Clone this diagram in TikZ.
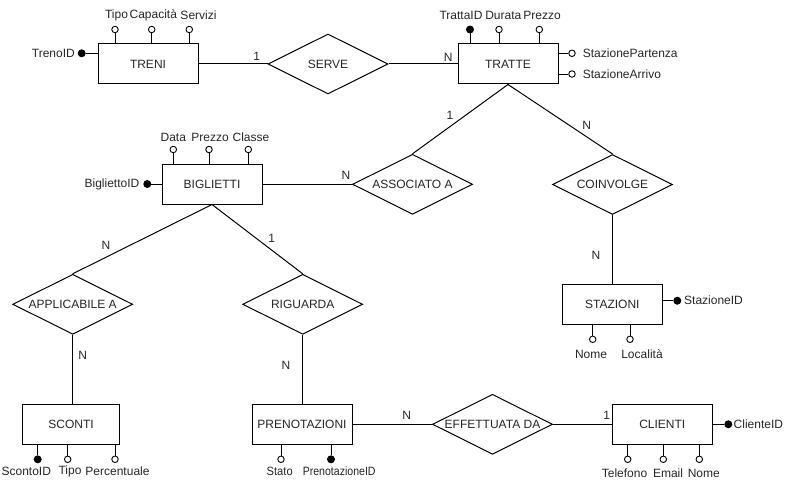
\documentclass[tikz,border=0pt]{standalone}
\usepackage{fontspec}
\usepackage{graphicx}
\setmainfont{Liberation Sans}
\usetikzlibrary{shapes.geometric}
\begin{document}
\begin{tikzpicture}[x=1pt,y=-1pt,
  every node/.style={font=\fontsize{12}{14}\selectfont, text=black!85},
  ent/.style={draw, line width=1pt, minimum width=100, minimum height=40, inner sep=0, fill=white},
  rel/.style={draw, line width=1pt, diamond, minimum width=120, minimum height=60, inner sep=0, fill=white},
  attro/.style={draw, line width=0.9pt, circle, minimum size=6.5, inner sep=0, fill=white},
  attrk/.style={draw, line width=0.9pt, circle, minimum size=7, inner sep=0, fill=black},
  txt/.style={inner sep=0},
  conn/.style={line width=1pt},
  stem/.style={line width=0.9pt}
]
\useasboundingbox (0,0) rectangle (790,487);

% entities
\node[ent] (treni) at (148,64) {TRENI};
\node[ent] (tratte) at (508,64) {TRATTE};
\node[ent] (biglietti) at (212,184) {BIGLIETTI};
\node[ent] (stazioni) at (612.3,304.3) {STAZIONI};
\node[ent, minimum width=97] (sconti) at (71,424.3) {SCONTI};
\node[ent] (prenotazioni) at (302,424.3) {PRENOTAZIONI};
\node[ent] (clienti) at (662.3,424.3) {CLIENTI};

% relationships
\node[rel, label={center:SERVE}] (serve) at (328,64) {};
\node[rel, label={center:ASSOCIATO A}] (associato) at (412.5,184.3) {};
\node[rel, label={center:COINVOLGE}] (coinvolge) at (612.5,184.5) {};
\node[rel, label={center:APPLICABILE A}] (applicabile) at (72.7,304.3) {};
\node[rel, label={center:RIGUARDA}] (riguarda) at (302.7,304.3) {};
\node[rel, label={center:EFFETTUATA DA}] (effettuata) at (492.5,424.3) {};

% relationship connectors
\draw[conn] (treni.east) -- (serve.west);
\draw[conn] (serve.east) -- (tratte.west);
\draw[conn] (biglietti.east |- associato.west) -- (associato.west);
\draw[conn] (associato.north) -- (tratte.south);
\draw[conn] (tratte.south) -- (coinvolge.north);
\draw[conn] (coinvolge.south) -- (coinvolge.south |- stazioni.north);
\draw[conn] (biglietti.south) -- (applicabile.north);
\draw[conn] (biglietti.south) -- (riguarda.north);
\draw[conn] (applicabile.south) -- (applicabile.south |- sconti.north);
\draw[conn] (riguarda.south) -- (riguarda.south |- prenotazioni.north);
\draw[conn] (prenotazioni.east) -- (effettuata.west);
\draw[conn] (effettuata.east) -- (clienti.west);

% cardinalities
\node[txt] (c1) at (256.7,56.7) {1};
\node[txt] (c2) at (448.3,57.3) {N};
\node[txt] (c3) at (450,115) {1};
\node[txt] (c4) at (346,175) {N};
\node[txt] (c5) at (586.7,125) {N};
\node[txt] (c6) at (596,255) {N};
\node[txt] (c7) at (106,245) {N};
\node[txt] (c8) at (271.7,238) {1};
\node[txt] (c9) at (82.7,355) {N};
\node[txt] (c10) at (286,365.7) {N};
\node[txt] (c11) at (406.7,415) {N};
\node[txt] (c12) at (606.7,415) {1};

% ---- TRENI attributes
\node[attrk] (trenoid) at (81.7,53.3) {};
\draw[stem] (trenoid.east) -- (trenoid -| treni.west);
\node[txt, anchor=east] (ltrenoid) at (75,53.3) {TrenoID};
\node[attro] (tr1) at (115,29.5) {};
\node[attro] (tr2) at (151.7,29.5) {};
\node[attro] (tr3) at (189.3,29.5) {};
\foreach \a in {tr1,tr2,tr3} \draw[stem] (\a.south) -- (\a |- treni.north);
\node[txt] (ltr1) at (116.5,15) {Tipo};
\node[txt] (ltr2) at (153.3,15) {Capacità};
\node[txt] (ltr3) at (198.5,15) {Servizi};

% ---- TRATTE attributes
\node[attrk] (ta1) at (470,29.5) {};
\node[attro] (ta2) at (499,29.5) {};
\node[attro] (ta3) at (539.3,29.5) {};
\foreach \a in {ta1,ta2,ta3} \draw[stem] (\a.south) -- (\a |- tratte.north);
\node[txt] (lta1) at (461,15) {TrattaID};
\node[txt] (lta2) at (503.3,15) {Durata};
\node[txt] (lta3) at (542,15) {Prezzo};
\node[attro] (tp) at (572,53.3) {};
\node[attro] (tar) at (572,74) {};
\draw[stem] (tp.west) -- (tp -| tratte.east);
\draw[stem] (tar.west) -- (tar -| tratte.east);
\node[txt, anchor=west] (ltp) at (582.7,53.3) {StazionePartenza};
\node[txt, anchor=west] (ltar) at (582.7,74) {StazioneArrivo};

% ---- BIGLIETTI attributes
\node[attrk] (bid) at (147.3,184) {};
\draw[stem] (bid.east) -- (bid -| biglietti.west);
\node[txt, anchor=east] (lbid) at (139.5,184) {BigliettoID};
\node[attro] (bi1) at (173.3,149.5) {};
\node[attro] (bi2) at (209,149.5) {};
\node[attro] (bi3) at (248.3,149.5) {};
\foreach \a in {bi1,bi2,bi3} \draw[stem] (\a.south) -- (\a |- biglietti.north);
\node[txt] (lbi1) at (173.3,137) {Data};
\node[txt] (lbi2) at (210,137) {Prezzo};
\node[txt] (lbi3) at (251,137) {Classe};

% ---- STAZIONI attributes
\node[attrk] (sid) at (677.3,300.7) {};
\draw[stem] (sid.west) -- (sid -| stazioni.east);
\node[txt, anchor=west] (lsid) at (684,300.7) {StazioneID};
\node[attro] (st1) at (592.7,339.3) {};
\node[attro] (st2) at (630,339.3) {};
\foreach \a in {st1,st2} \draw[stem] (\a.north) -- (\a |- stazioni.south);
\node[txt] (lst1) at (591,354) {Nome};
\node[txt] (lst2) at (642,354) {Località};

% ---- SCONTI attributes
\node[attrk] (sc1) at (37.7,459.3) {};
\node[attro] (sc2) at (67.7,459.3) {};
\node[attro] (sc3) at (115,459.3) {};
\foreach \a in {sc1,sc2,sc3} \draw[stem] (\a.north) -- (\a |- sconti.south);
\node[txt] (lsc1) at (26.3,471) {ScontoID};
\node[txt] (lsc2) at (70,471) {Tipo};
\node[txt] (lsc3) at (117.5,471) {Percentuale};

% ---- PRENOTAZIONI attributes
\node[attro] (pr1) at (281,459.3) {};
\node[attrk] (pr2) at (331,459.3) {};
\foreach \a in {pr1,pr2} \draw[stem] (\a.north) -- (\a |- prenotazioni.south);
\node[txt] (lpr1) at (279.7,471) {\scalebox{0.93}[1]{Stato}};
\node[txt] (lpr2) at (339.2,471) {\scalebox{0.88}[1]{PrenotazioneID}};

% ---- CLIENTI attributes
\node[attrk] (cid) at (728.3,424.3) {};
\draw[stem] (cid.west) -- (cid -| clienti.east);
\node[txt, anchor=west] (lcid) at (733.5,424.3) {ClienteID};
\node[attro] (cl1) at (627.7,459.3) {};
\node[attro] (cl2) at (663.3,459.3) {};
\node[attro] (cl3) at (699.3,459.3) {};
\foreach \a in {cl1,cl2,cl3} \draw[stem] (\a.north) -- (\a |- clienti.south);
\node[txt] (lcl1) at (624.5,473) {Telefono};
\node[txt] (lcl2) at (668,473) {Email};
\node[txt] (lcl3) at (703.8,473) {Nome};
\end{tikzpicture}
\end{document}
